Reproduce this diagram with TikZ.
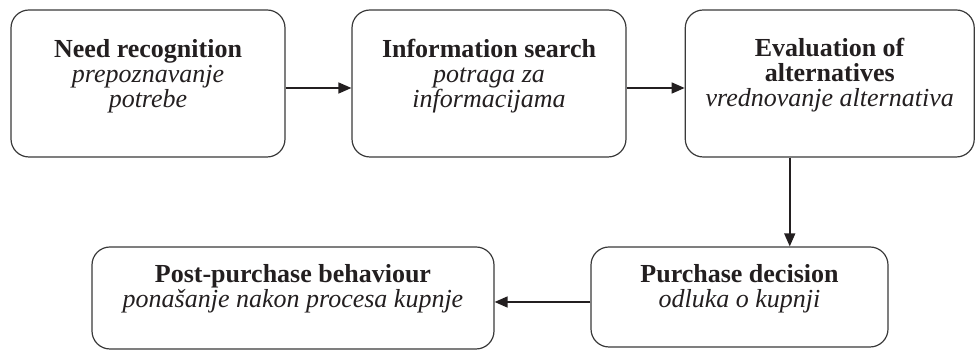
\documentclass[tikz,border=0pt]{standalone}
\usepackage{fontspec}
\setmainfont{Liberation Serif}
\usetikzlibrary{arrows.meta,calc}
\definecolor{ink}{HTML}{231F20}
\definecolor{edge}{HTML}{3A3A3A}
\tikzset{
  box/.style={draw=edge, line width=0.6pt, rounded corners=9pt, inner sep=0pt, fill=white},
  lbl/.style={align=center, inner sep=0pt, text=ink, font=\fontsize{13}{12.5}\selectfont, anchor=base},
  arr/.style={draw=ink, line width=0.75pt, -{Triangle[length=6.5pt,width=5.5pt]}}
}
\begin{document}
\begin{tikzpicture}[x=0.5pt,y=-0.5pt]
\useasboundingbox (0,0) rectangle (976,351);
% boxes
\node[box, minimum width=137pt, minimum height=73.5pt] (b1) at (148,83.5) {};
\node[box, minimum width=137pt, minimum height=73.5pt] (b2) at (489,83.5) {};
\node[box, minimum width=144.5pt, minimum height=73.5pt] (b3) at (829.75,83.5) {};
\node[box, minimum width=201pt, minimum height=51pt] (b4) at (293,298) {};
\node[box, minimum width=148.5pt, minimum height=50pt] (b5) at (739.5,297) {};
% texts (anchor = baseline of the last line)
\node[lbl] (t1) at (148,108) {\textbf{Need recognition}\\ \textit{prepoznavanje}\\ \textit{potrebe}};
\node[lbl] (t2) at (489,108) {\textbf{Information search}\\ \textit{potraga za}\\ \textit{informacijama}};
\node[lbl] (t3) at (829.75,107) {\textbf{Evaluation of}\\ \textbf{alternatives}\\ \textit{vrednovanje alternativa}};
\node[lbl] (t4) at (293,308) {\textbf{Post-purchase behaviour}\\ \textit{ponašanje nakon procesa kupnje}};
\node[lbl] (t5) at (739.5,308) {\textbf{Purchase decision}\\ \textit{odluka o kupnji}};
% connectors
\draw[arr] ([yshift=-2.25pt]b1.east) -- ([yshift=-2.25pt]b2.west);
\draw[arr] ([yshift=-2.25pt]b2.east) -- ([yshift=-2.25pt]b3.west);
\draw[arr] ([xshift=-20pt]b3.south) -- ([xshift=-20pt]b3.south |- b5.north);
\draw[arr] ([yshift=-2.5pt]b5.west) -- ([yshift=-2.5pt]b5.west -| b4.east);
\end{tikzpicture}
\end{document}
